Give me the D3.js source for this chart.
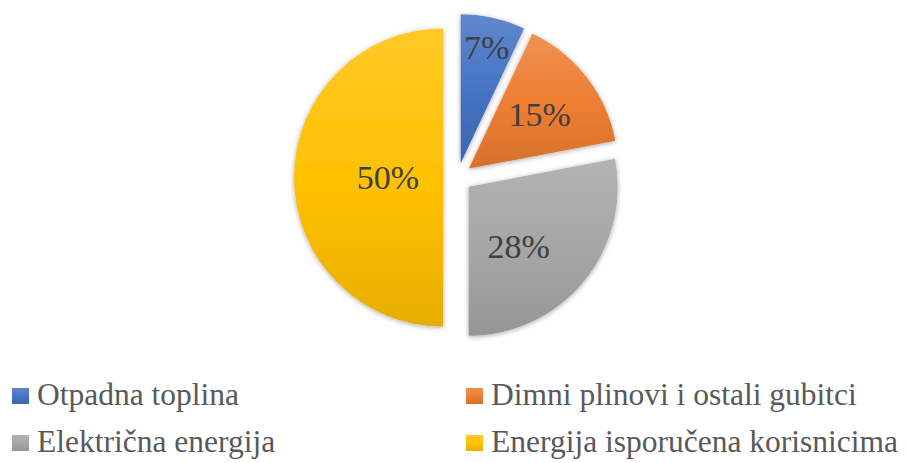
<!DOCTYPE html>
<html>
<head>
<meta charset="utf-8">
<script src="https://cdn.jsdelivr.net/npm/d3@7"></script>
<style>
	body { margin: 0; background: #fff; }
	svg { display: block; }
	text { font-family: "Liberation Serif", "Times New Roman", Tinos, "DejaVu Serif", serif; }
</style>
</head>
<body>
<script>
const w = 908
const h = 463

// data
const categories = ["Otpadna toplina", "Dimni plinovi i ostali gubitci", "Električna energija", "Energija isporučena korisnicima"]
const values = [7, 15, 28, 50]
const colors = ["#4472C4", "#ED7D31", "#A5A5A5", "#FFC000"]

// layout
const cx = 457.5
const cy = 177.5
const radius = 149
const explode = 14.5
const labelFrac = [0.8, 0.6, 0.52, 0.37]
const labelTurn = [0, 0, 0.18, 0]

const svg = d3.select("body")
	.append("svg")
	.attr("width", w)
	.attr("height", h)

const defs = svg.append("defs")

let shadow = defs.append("filter")
	.attr("id", "shadow")
	.attr("x", "-20%").attr("y", "-20%")
	.attr("width", "140%").attr("height", "140%")
shadow.append("feDropShadow")
	.attr("dx", 0).attr("dy", 1)
	.attr("stdDeviation", 2.5)
	.attr("flood-color", "#000")
	.attr("flood-opacity", 0.35)

colors.forEach((c, i) => {
	let g = defs.append("linearGradient")
		.attr("id", "grad" + i)
		.attr("x1", 0).attr("y1", 0)
		.attr("x2", 0).attr("y2", 1)
	g.append("stop").attr("offset", "0%").attr("stop-color", d3.interpolateRgb(c, "#fff")(0.15))
	g.append("stop").attr("offset", "55%").attr("stop-color", c)
	g.append("stop").attr("offset", "100%").attr("stop-color", d3.interpolateRgb(c, "#000")(0.1))
})

const pie = d3.pie().sort(null).value(d => d)
const arcs = pie(values)

const arc = d3.arc()
	.innerRadius(0)
	.outerRadius(radius)

const chart = svg.append("g")
	.attr("transform", "translate(" + cx + "," + cy + ")")

let offset = d => {
	let a = (d.startAngle + d.endAngle) / 2
	return [Math.sin(a) * explode, -Math.cos(a) * explode]
}

chart.selectAll("path")
	.data(arcs)
	.enter()
	.append("path")
	.attr("d", arc)
	.attr("fill", (d, i) => "url(#grad" + i + ")")
	.attr("filter", "url(#shadow)")
	.attr("transform", d => "translate(" + offset(d) + ")")

chart.selectAll("text.lbl")
	.data(arcs)
	.enter()
	.append("text")
	.attr("class", "lbl")
	.attr("transform", (d, i) => {
		let o = offset(d)
		let a = (d.startAngle + d.endAngle) / 2 + labelTurn[i]
		let r = radius * labelFrac[i]
		return "translate(" + (o[0] + Math.sin(a) * r) + "," + (o[1] - Math.cos(a) * r) + ")"
	})
	.attr("text-anchor", "middle")
	.attr("dy", "0.35em")
	.attr("font-size", 34)
	.attr("fill", "#404040")
	.text((d, i) => values[i] + "%")

// legend
const legendX = d3.scalePoint().domain([0, 1]).range([12, 466])
const legendY = d3.scalePoint().domain([0, 1]).range([405, 452])

let items = svg.selectAll("g.leg")
	.data(categories)
	.enter()
	.append("g")
	.attr("class", "leg")
	.attr("transform", (d, i) => "translate(" + legendX(i % 2) + "," + legendY(Math.floor(i / 2)) + ")")

items.append("rect")
	.attr("x", 0)
	.attr("y", -17)
	.attr("width", 17)
	.attr("height", 16)
	.attr("fill", (d, i) => "url(#grad" + i + ")")

items.append("text")
	.attr("x", 25)
	.attr("y", 0)
	.attr("font-size", 31.5)
	.attr("fill", "#595959")
	.text(d => d)
</script>
</body>
</html>
